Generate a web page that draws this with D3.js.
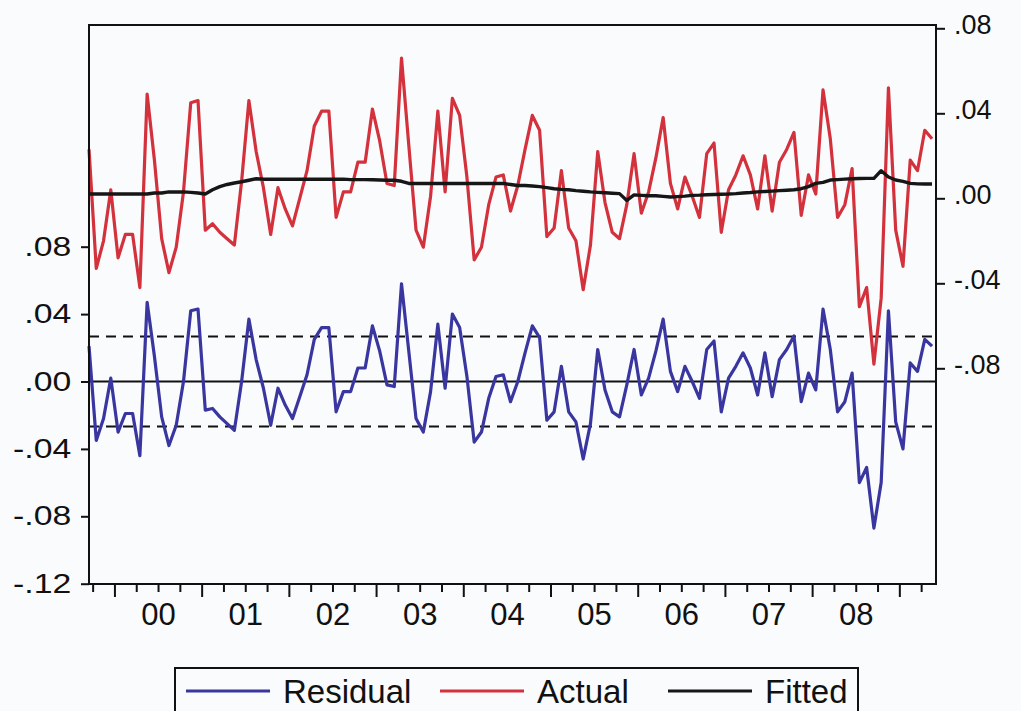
<!DOCTYPE html>
<html>
<head>
<meta charset="utf-8">
<script src="https://cdn.jsdelivr.net/npm/d3@7"></script>
<style>
  html, body { margin: 0; padding: 0; background: #f9fbfd; }
  svg { display: block; }
  text { font-family: "Liberation Sans", Arial, sans-serif; fill: #111; }
</style>
</head>
<body>
<svg id="chart" width="1021" height="711"></svg>
<script>
// ---- data (monthly, 1999M09 .. 2009M05) ----
const startYear = 1999;
const startMonth = 9;
const yearLabels = ["00","01","02","03","04","05","06","07","08"];
const yearTicks = [2000,2001,2002,2003,2004,2005,2006,2007,2008];
const leftTicks = [-0.12,-0.08,-0.04,0.00,0.04,0.08];
const rightTicks = [-0.08,-0.04,0.00,0.04,0.08];
const residualSE = 0.0267;

const residual = [
 0.021,-0.035,-0.022, 0.002,-0.030,-0.019,-0.019,-0.044, 0.047, 0.015,
-0.021,-0.038,-0.026, 0.000, 0.042, 0.043,-0.017,-0.016,-0.021,-0.025,
-0.029, 0.000, 0.037, 0.013,-0.004,-0.026,-0.004,-0.014,-0.022,-0.009,
 0.004, 0.025, 0.032, 0.032,-0.018,-0.006,-0.006, 0.008, 0.008, 0.033,
 0.018,-0.002,-0.003, 0.058, 0.018,-0.022,-0.030,-0.006, 0.034,-0.004,
 0.040, 0.032, 0.003,-0.036,-0.030,-0.010, 0.003, 0.004,-0.012, 0.000,
 0.017, 0.033, 0.026,-0.023,-0.018, 0.009,-0.018,-0.024,-0.046,-0.025,
 0.019,-0.005,-0.018,-0.021,-0.002, 0.019,-0.008, 0.002, 0.018, 0.037,
 0.006,-0.006, 0.009, 0.000,-0.010, 0.019, 0.024,-0.018, 0.002, 0.009,
 0.017, 0.008,-0.008, 0.017,-0.009, 0.013, 0.019, 0.027,-0.012, 0.005,
-0.005, 0.043, 0.019,-0.018,-0.012, 0.005,-0.060,-0.051,-0.087,-0.060,
 0.042,-0.024,-0.040, 0.011, 0.006, 0.025, 0.021
];

const actual = [
 0.023,-0.033,-0.020, 0.004,-0.028,-0.017,-0.017,-0.042, 0.049, 0.018,
-0.019,-0.035,-0.023, 0.003, 0.045, 0.046,-0.015,-0.012,-0.016,-0.019,
-0.022, 0.008, 0.046, 0.022, 0.005,-0.017, 0.005,-0.005,-0.013, 0.000,
 0.013, 0.034, 0.041, 0.041,-0.009, 0.003, 0.003, 0.017, 0.017, 0.042,
 0.027, 0.007, 0.006, 0.066, 0.025,-0.015,-0.023, 0.001, 0.041, 0.003,
 0.047, 0.039, 0.010,-0.029,-0.023,-0.003, 0.010, 0.011,-0.006, 0.006,
 0.023, 0.039, 0.032,-0.018,-0.014, 0.013,-0.014,-0.020,-0.043,-0.022,
 0.022,-0.002,-0.016,-0.019,-0.003, 0.021,-0.007, 0.003, 0.019, 0.038,
 0.007,-0.005, 0.010, 0.001,-0.009, 0.021, 0.026,-0.016, 0.004, 0.011,
 0.020, 0.011,-0.005, 0.020,-0.006, 0.017, 0.023, 0.031,-0.008, 0.011,
 0.002, 0.051, 0.028,-0.009,-0.003, 0.014,-0.051,-0.042,-0.078,-0.047,
 0.052,-0.015,-0.032, 0.018, 0.013, 0.032, 0.028
];

const fitted = [
 0.0020,0.0020,0.0020,0.0020,0.0020,0.0020,0.0020,0.0020,0.0020,0.0025,
 0.0025,0.0030,0.0030,0.0030,0.0028,0.0025,0.0020,0.0040,0.0055,0.0065,
 0.0072,0.0078,0.0085,0.0092,0.0090,0.0090,0.0090,0.0090,0.0090,0.0090,
 0.0090,0.0090,0.0090,0.0090,0.0090,0.0090,0.0088,0.0088,0.0088,0.0087,
 0.0086,0.0085,0.0085,0.0080,0.0070,0.0070,0.0070,0.0070,0.0070,0.0070,
 0.0070,0.0070,0.0070,0.0070,0.0070,0.0070,0.0070,0.0070,0.0065,0.0060,
 0.0060,0.0058,0.0055,0.0050,0.0045,0.0042,0.0040,0.0036,0.0033,0.0030,
 0.0028,0.0026,0.0024,0.0022,-0.0010,0.0016,0.0014,0.0012,0.0012,0.0009,
 0.0006,0.0008,0.0010,0.0014,0.0015,0.0017,0.0018,0.0019,0.0020,0.0022,
 0.0025,0.0027,0.0030,0.0032,0.0034,0.0036,0.0038,0.0040,0.0045,0.0055,
 0.0070,0.0075,0.0086,0.0088,0.0090,0.0092,0.0093,0.0094,0.0094,0.0130,
 0.0100,0.0086,0.0080,0.0070,0.0068,0.0067,0.0067
];

// ---- layout ----
const svg = d3.select("#chart");
const L = 89, R = 936, T = 25, B = 584;

const dateOf = i => startYear + (startMonth - 1 + i + 0.5) / 12;
const n = residual.length;

const x = d3.scaleLinear().domain([dateOf(0), dateOf(0) + 9.712]).range([L, R]);
const yL = d3.scaleLinear().domain([-0.12, 0.08]).range([583.7, 246.7]);
const yR = d3.scaleLinear().domain([-0.08, 0.08]).range([368.3, 28.3]);

const fmt = v => {
  const s = Math.abs(v).toFixed(2).replace(/^0/, "");
  return (v < -1e-9 ? "-" : "") + s;
};

// reference lines (residual scale)
const refG = svg.append("g");
refG.append("line")
  .attr("x1", L).attr("x2", R).attr("y1", yL(0)).attr("y2", yL(0))
  .attr("stroke", "#111").attr("stroke-width", 2.2);
[residualSE, -residualSE].forEach(v => {
  refG.append("line")
    .attr("x1", L).attr("x2", R).attr("y1", yL(v)).attr("y2", yL(v))
    .attr("stroke", "#111").attr("stroke-width", 2.2)
    .attr("stroke-dasharray", "10,7");
});

// series
const idx = d3.range(n);
const lineRes = d3.line().x(i => x(dateOf(i))).y(i => yL(residual[i]));
const lineAct = d3.line().x(i => x(dateOf(i))).y(i => yR(actual[i]));
const lineFit = d3.line().x(i => x(dateOf(i))).y(i => yR(fitted[i]));

svg.append("path").datum(idx).attr("d", lineRes)
  .attr("fill", "none").attr("stroke", "#3a36a0").attr("stroke-width", 3.2)
  .attr("stroke-linejoin", "round");
svg.append("path").datum(idx).attr("d", lineAct)
  .attr("fill", "none").attr("stroke", "#d3313c").attr("stroke-width", 3.2)
  .attr("stroke-linejoin", "round");
svg.append("path").datum(idx).attr("d", lineFit)
  .attr("fill", "none").attr("stroke", "#161616").attr("stroke-width", 3.4)
  .attr("stroke-linejoin", "round");

// frame
svg.append("rect").attr("x", L).attr("y", T).attr("width", R - L).attr("height", B - T)
  .attr("fill", "none").attr("stroke", "#111").attr("stroke-width", 2);

// left axis
const axL = svg.append("g").attr("transform", `translate(${L},0)`)
  .call(d3.axisLeft(yL).tickValues(leftTicks).tickFormat(fmt).tickSize(8).tickPadding(6));
axL.select(".domain").remove();
axL.selectAll("line").attr("stroke", "#111").attr("stroke-width", 2);
axL.selectAll("text").attr("font-size", 27).attr("fill", "#111")
  .attr("font-family", "Liberation Sans, Arial, sans-serif")
  .attr("transform", "scale(1.25,1) translate(-3,0)").attr("x", -11.2);

// right axis
const axR = svg.append("g").attr("transform", `translate(${R},0)`)
  .call(d3.axisRight(yR).tickValues(rightTicks).tickFormat(fmt).tickSize(9).tickPadding(9));
axR.select(".domain").remove();
axR.selectAll("line").attr("stroke", "#111").attr("stroke-width", 2);
axR.selectAll("text").attr("font-size", 27).attr("fill", "#111")
  .attr("font-family", "Liberation Sans, Arial, sans-serif").attr("dy", "0.2em");

// bottom axis: quarterly minor ticks, yearly major ticks
const quarters = [];
for (let q = 1999.75; q <= 2009.26; q += 0.25) quarters.push(+q.toFixed(2));
const axBminor = svg.append("g").attr("transform", `translate(0,${B})`)
  .call(d3.axisBottom(x).tickValues(quarters.filter(q => q % 1 !== 0)).tickSize(8).tickFormat(""));
axBminor.select(".domain").remove();
axBminor.selectAll("line").attr("stroke", "#111").attr("stroke-width", 2);

const axBmajor = svg.append("g").attr("transform", `translate(0,${B})`)
  .call(d3.axisBottom(x).tickValues(quarters.filter(q => q % 1 === 0)).tickSize(13).tickFormat(""));
axBmajor.select(".domain").remove();
axBmajor.selectAll("line").attr("stroke", "#111").attr("stroke-width", 2);

const axBlab = svg.append("g").attr("transform", `translate(0,${B})`)
  .call(d3.axisBottom(x).tickValues(yearTicks.map(y => y + 0.5))
    .tickFormat((d, i) => yearLabels[i]).tickSize(0).tickPadding(19));
axBlab.select(".domain").remove();
axBlab.selectAll("text").attr("font-size", 31).attr("fill", "#111");

// legend
const leg = svg.append("g");
leg.append("rect").attr("x", 175).attr("y", 668).attr("width", 683).attr("height", 60)
  .attr("fill", "none").attr("stroke", "#111").attr("stroke-width", 2);
const items = [
  { name: "Residual", color: "#3a36a0", x0: 186 },
  { name: "Actual", color: "#d3313c", x0: 440 },
  { name: "Fitted", color: "#161616", x0: 668 }
];
items.forEach(it => {
  leg.append("line").attr("x1", it.x0).attr("x2", it.x0 + 84)
    .attr("y1", 691).attr("y2", 691)
    .attr("stroke", it.color).attr("stroke-width", 3.2);
  leg.append("text").attr("x", it.x0 + 97).attr("y", 703)
    .attr("font-size", 33).text(it.name);
});
</script>
</body>
</html>
